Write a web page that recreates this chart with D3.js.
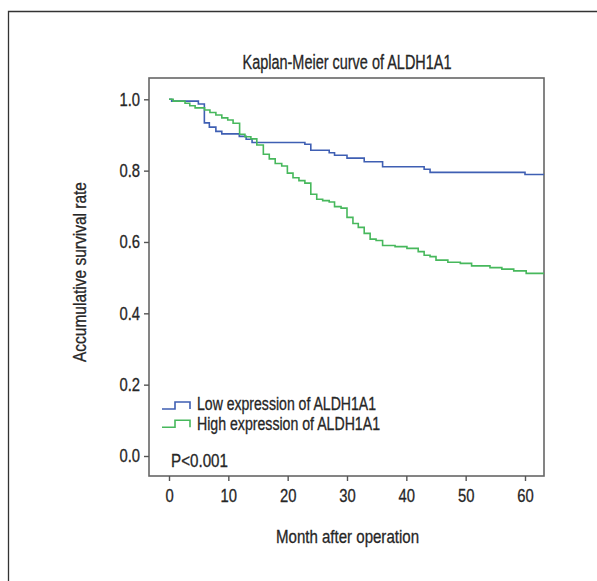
<!DOCTYPE html>
<html>
<head>
<meta charset="utf-8">
<script src="https://cdn.jsdelivr.net/npm/d3@7"></script>
<style>
  body { margin: 0; background: #fff; }
  text { font-family: "Liberation Sans", Arial, sans-serif; fill: #262626; stroke: #262626; stroke-width: 0.3px; }
</style>
</head>
<body>
<div id="chart-area"></div>
<script>
// KAPLAN-MEIER CURVE - ALDH1A1

// Data
const lowTimes  = [0, 0.45, 4.95, 5.96, 6.8, 7.9, 8.9, 11.85, 13.0, 14.0, 22.9, 23.9, 27.0, 27.9, 30.0, 32.9, 36.0, 43.0, 44.0, 60.0]
const lowSurv   = [1.0, 0.995, 0.987, 0.934, 0.922, 0.910, 0.903, 0.896, 0.888, 0.879, 0.874, 0.857, 0.850, 0.843, 0.835, 0.825, 0.811, 0.804, 0.795, 0.789]

const highTimes = [0, 0.7, 2.7, 3.5, 4.4, 6.0, 6.9, 7.9, 8.9, 9.9, 10.8, 11.9, 12.8, 13.8, 14.8, 15.9, 16.9, 17.9, 19.0, 19.95, 20.9, 21.9, 22.9, 23.9, 24.9, 25.9, 27.0, 27.9, 29.0, 30.0, 31.0, 31.9, 32.9, 33.9, 34.9, 36.0, 38.1, 40.1, 42.0, 43.0, 44.0, 45.0, 47.0, 49.1, 51.0, 54.1, 56.1, 58.1, 60.2]
const highSurv  = [1.0, 0.995, 0.989, 0.982, 0.976, 0.970, 0.963, 0.956, 0.948, 0.942, 0.933, 0.902, 0.895, 0.889, 0.872, 0.846, 0.833, 0.820, 0.813, 0.793, 0.780, 0.772, 0.765, 0.734, 0.720, 0.716, 0.712, 0.699, 0.695, 0.669, 0.652, 0.641, 0.624, 0.608, 0.604, 0.590, 0.587, 0.582, 0.573, 0.563, 0.559, 0.549, 0.543, 0.540, 0.533, 0.528, 0.524, 0.519, 0.512]

const xTicks = [0, 10, 20, 30, 40, 50, 60]
const yTicks = [0.0, 0.2, 0.4, 0.6, 0.8, 1.0]
const seriesNames = ["Low expression of ALDH1A1", "High expression of ALDH1A1"]
const seriesColors = ["#3f5fb3", "#47b85c"]

const W = 597, H = 581
// plot box in pixels
const BOX = { LEFT: 149, RIGHT: 544, TOP: 78, BOTTOM: 476 }
// squeeze factor to mimic a condensed face
const NARROW = 0.8

const svg = d3.select("#chart-area").append("svg")
    .attr("width", W)
    .attr("height", H)

// outer frame (only left and top visible)
svg.append("path")
    .attr("d", `M8.5,${H} V11.5 H${W}`)
    .attr("fill", "none")
    .attr("stroke", "#333")
    .attr("stroke-width", 1.3)

const x = d3.scaleLinear()
    .domain([0, 60])
    .range([169, 525])

const y = d3.scaleLinear()
    .domain([0, 1])
    .range([456, 99.3])

const xEnd = x.invert(BOX.RIGHT)

// plot box
svg.append("rect")
    .attr("x", BOX.LEFT)
    .attr("y", BOX.TOP)
    .attr("width", BOX.RIGHT - BOX.LEFT)
    .attr("height", BOX.BOTTOM - BOX.TOP)
    .attr("fill", "none")
    .attr("stroke", "#666")
    .attr("stroke-width", 1.6)

// axes
const xAxis = d3.axisBottom(x)
    .tickValues(xTicks)
    .tickSize(5)
    .tickPadding(8)
    .tickFormat(d3.format("d"))
const gx = svg.append("g")
    .attr("transform", `translate(0, ${BOX.BOTTOM})`)
    .call(xAxis)
gx.select(".domain").remove()
gx.selectAll("line").attr("stroke", "#555").attr("stroke-width", 1.4)
gx.selectAll("text").attr("font-size", "18.5px").attr("fill", "#262626")

const yAxis = d3.axisLeft(y)
    .tickValues(yTicks)
    .tickSize(5)
    .tickPadding(4)
    .tickFormat(d3.format(".1f"))
const gy = svg.append("g")
    .attr("transform", `translate(${BOX.LEFT}, 0)`)
    .call(yAxis)
gy.select(".domain").remove()
gy.selectAll("line").attr("stroke", "#555").attr("stroke-width", 1.4)
gy.selectAll("text").attr("font-size", "18.5px").attr("fill", "#262626")

// curves
const line = d3.line()
    .x(d => x(d[0]))
    .y(d => y(d[1]))
    .curve(d3.curveStepAfter)

const makePts = (times, surv) => {
    const pts = times.map((t, i) => [t, surv[i]])
    pts.push([xEnd, surv[surv.length - 1]])
    return pts
}

const curves = [makePts(lowTimes, lowSurv), makePts(highTimes, highSurv)]

curves.forEach((pts, i) => {
    svg.append("path")
        .attr("d", line(pts))
        .attr("fill", "none")
        .attr("stroke", seriesColors[i])
        .attr("stroke-width", 1.6)
})

// title
svg.append("text")
    .attr("x", 347)
    .attr("y", 69)
    .attr("text-anchor", "middle")
    .attr("font-size", "19.5px")
    .attr("data-w", 209)
    .text("Kaplan-Meier curve of ALDH1A1")

// axis titles
svg.append("text")
    .attr("x", 347.5)
    .attr("y", 543)
    .attr("text-anchor", "middle")
    .attr("font-size", "18.5px")
    .attr("data-w", 143)
    .text("Month after operation")

svg.append("text")
    .attr("transform", "translate(86, 272) rotate(-90)")
    .attr("text-anchor", "middle")
    .attr("font-size", "18.5px")
    .attr("data-w", 180)
    .text("Accumulative survival rate")

// legend
seriesNames.forEach((name, i) => {
    const base = 409 + i * 18.3
    svg.append("path")
        .attr("d", `M162,${base} H175 V${base - 7} H190 V${base}`)
        .attr("fill", "none")
        .attr("stroke", seriesColors[i])
        .attr("stroke-width", 1.6)
    svg.append("text")
        .attr("x", 197)
        .attr("y", 409.5 + i * 20)
        .attr("font-size", "17.5px")
        .attr("data-w", i === 0 ? 179 : 183)
        .text(name)
})

// p-value
svg.append("text")
    .attr("x", 171)
    .attr("y", 467)
    .attr("font-size", "18.5px")
    .attr("data-w", 57)
    .text("P<0.001")

// condense every text
svg.selectAll("text").each(function() {
    const el = d3.select(this)
    const w = el.attr("data-w")
    const len = w ? +w : this.getComputedTextLength() * NARROW
    el.attr("textLength", len)
        .attr("lengthAdjust", "spacingAndGlyphs")
})
</script>
</body>
</html>
